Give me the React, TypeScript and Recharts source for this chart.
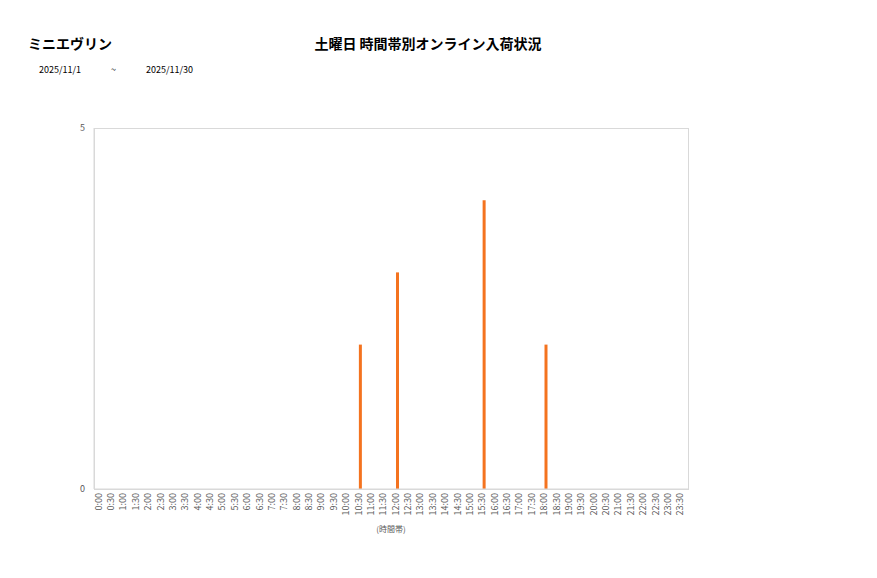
import React from 'react'
import { BarChart, Bar, XAxis, YAxis } from 'recharts'

const timeSlots = [
  '0:00', '0:30', '1:00', '1:30', '2:00', '2:30', '3:00', '3:30',
  '4:00', '4:30', '5:00', '5:30', '6:00', '6:30', '7:00', '7:30',
  '8:00', '8:30', '9:00', '9:30', '10:00', '10:30', '11:00', '11:30',
  '12:00', '12:30', '13:00', '13:30', '14:00', '14:30', '15:00', '15:30',
  '16:00', '16:30', '17:00', '17:30', '18:00', '18:30', '19:00', '19:30',
  '20:00', '20:30', '21:00', '21:30', '22:00', '22:30', '23:00', '23:30',
]

// arrivals per slot (only non-zero slots listed)
const arrivals: Record<string, number> = {
  '10:30': 2,
  '12:00': 3,
  '15:30': 4,
  '18:00': 2,
}

const yTicks = [0, 5]

const data = timeSlots.map((time) => ({ time, count: arrivals[time] ?? 0 }))

const FONT = '"Noto Sans CJK JP", "Noto Sans", sans-serif'
const BORDER = '#d9d9d9'
const BAR_COLOR = '#f4731f'

// vertical tick label, centred on the category slot
const TimeTick = (props: any) => {
  const { x, y, payload } = props
  const tx = x - 2
  const ty = y + 4
  return (
    <text
      x={tx}
      y={ty}
      transform={`rotate(-90, ${tx}, ${ty})`}
      textAnchor="end"
      dominantBaseline="central"
      fontSize={9}
      fill="#595959"
      fontFamily={FONT}
    >
      {payload.value}
    </text>
  )
}

const App: React.FC = () => {
  return (
    <div
      style={{
        position: 'absolute',
        left: 0,
        top: 0,
        width: 877,
        height: 578,
        background: '#fff',
        fontFamily: FONT,
      }}
    >
      {/* Header */}
      <div style={{ position: 'absolute', left: 28, top: 33, fontSize: 14, fontWeight: 700, color: '#000' }}>
        ミニエヴリン
      </div>
      <div
        style={{
          position: 'absolute',
          left: 0,
          width: 856,
          top: 33,
          textAlign: 'center',
          fontSize: 14,
          fontWeight: 700,
          color: '#000',
        }}
      >
        土曜日 時間帯別オンライン入荷状況
      </div>
      <div style={{ position: 'absolute', left: 39, top: 63, fontSize: 9, color: '#000' }}>2025/11/1</div>
      <div style={{ position: 'absolute', left: 111, top: 63, fontSize: 9, color: '#000' }}>~</div>
      <div style={{ position: 'absolute', left: 146, top: 63, fontSize: 9, color: '#000' }}>2025/11/30</div>

      <div style={{ position: 'absolute', left: 0, top: 0 }}>
        <BarChart
          width={877}
          height={578}
          data={data}
          margin={{ top: 128, right: 189, bottom: 41, left: 74 }}
          barCategoryGap={0}
        >
          <XAxis
            dataKey="time"
            interval={0}
            tickLine={false}
            tickSize={0}
            tickMargin={0}
            height={48}
            axisLine={{ stroke: BORDER }}
            tick={<TimeTick />}
            label={{
              value: '(時間帯)',
              position: 'insideBottom',
              offset: 5,
              fontSize: 8,
              fill: '#595959',
              fontFamily: FONT,
            }}
          />
          <YAxis
            domain={[0, 5]}
            ticks={yTicks}
            width={20}
            tickLine={false}
            tickSize={0}
            tickMargin={9}
            axisLine={{ stroke: BORDER }}
            tick={{ fontSize: 9, fill: '#595959', fontFamily: FONT }}
          />
          <Bar dataKey="count" fill={BAR_COLOR} barSize={3} isAnimationActive={false} />
        </BarChart>
      </div>

      {/* plot area frame */}
      <div
        style={{
          position: 'absolute',
          left: 94,
          top: 128,
          width: 595,
          height: 362,
          boxSizing: 'border-box',
          border: `1px solid ${BORDER}`,
          pointerEvents: 'none',
        }}
      />
    </div>
  )
}

export default App
